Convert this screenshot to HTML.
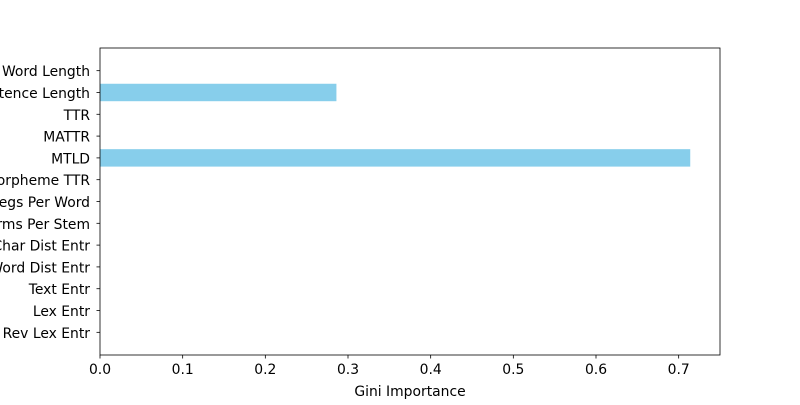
<!DOCTYPE html>
<html><head><meta charset="utf-8"><style>
body{margin:0;background:#fff;}
svg text{font-family:"DejaVu Sans","Liberation Sans",sans-serif;font-size:13.9px;fill:#000;}
</style></head><body>
<svg width="800" height="400" xmlns="http://www.w3.org/2000/svg">
<g id="plot"></g>
</svg>
<script>
const labels=["Word Length","ntence Length","TTR","MATTR","MTLD","orpheme TTR","egs Per Word","rms Per Stem","Char Dist Entr","Word Dist Entr","Text Entr","Lex Entr","Rev Lex Entr"];
const values=[0,0.286,0,0,0.714,0,0,0,0,0,0,0,0];
const xTicks=[0,0.1,0.2,0.3,0.4,0.5,0.6,0.7];
const xTickLabels=["0.0","0.1","0.2","0.3","0.4","0.5","0.6","0.7"];
const L=100,R=720,T=48,B=355,xMax=0.75;
const n=labels.length;
const yMin=-0.4-0.05*(n-1+0.8), yMax=n-1+0.4+0.05*(n-1+0.8);
const xs=v=>L+(v/xMax)*(R-L);
const ys=i=>T+(i-yMin)/(yMax-yMin)*(B-T);
const bh=0.8*(B-T)/(yMax-yMin);
const NS="http://www.w3.org/2000/svg";
const g=document.getElementById('plot');
function mk(t,a){const e=document.createElementNS(NS,t);for(const k in a)e.setAttribute(k,a[k]);g.appendChild(e);return e;}
values.forEach((v,i)=>{
 const r=mk('rect',{x:xs(0),y:ys(i)-bh/2,width:xs(v)-xs(0),height:bh,fill:'#87ceeb'});
 
 
 const tk=mk('line',{x1:L-3.5,x2:L,y1:ys(i),y2:ys(i),stroke:'#000','stroke-width':0.8});
 
 
 const t=mk('text',{x:L-10,y:ys(i)+5.5,'text-anchor':'end'});
 t.textContent=labels[i];
 
 
});
xTicks.forEach((v,i)=>{
 const tk=mk('line',{x1:xs(v),x2:xs(v),y1:B,y2:B+3.5,stroke:'#000','stroke-width':0.8});
 
 
 const t=mk('text',{x:xs(v),y:B+19,'text-anchor':'middle'});
 t.textContent=xTickLabels[i];
 
 
});
const fr=mk('rect',{x:L,y:T,width:R-L,height:B-T,fill:'none',stroke:'#000','stroke-width':0.8});


const xt=mk('text',{x:(L+R)/2,y:396,'text-anchor':'middle'});
xt.textContent='Gini Importance';


</script>
</body></html>
